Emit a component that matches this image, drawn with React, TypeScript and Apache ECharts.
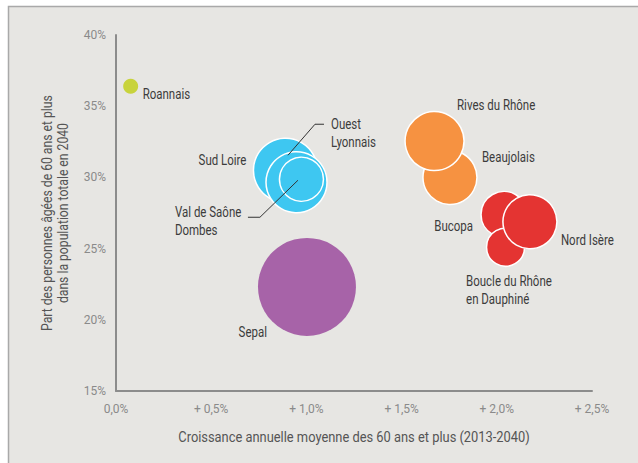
import React, { useEffect, useRef } from "react";
import * as echarts from "echarts";

const names = ["Roannais", "Sud Loire", "Ouest Lyonnais", "Val de Saône Dombes", "Sepal", "Beaujolais", "Rives du Rhône", "Bucopa", "Boucle du Rhône en Dauphiné", "Nord Isère"];
const labelTexts = ["Roannais", "Sud Loire", "Ouest\nLyonnais", "Val de Saône\nDombes", "Sepal", "Beaujolais", "Rives du Rhône", "Bucopa", "Boucle du Rhône\nen Dauphiné", "Nord Isère"];
const growth = [0.077, 0.89, 0.948, 0.974, 1.003, 1.754, 1.673, 2.038, 2.046, 2.174];
const share60 = [36.4, 30.5, 29.66, 29.87, 22.31, 30.0, 32.55, 27.4, 25.1, 26.88];
const bubble = [15, 64, 61, 44, 98, 54, 59, 46, 38, 54];
const colors = ["#c8d33c", "#3ec7f1", "#3ec7f1", "#3ec7f1", "#a763a8", "#f69241", "#f69241", "#e43432", "#e43432", "#e43432"];
const xTicks = [0, 0.5, 1, 1.5, 2, 2.5];
const yTicks = [15, 20, 25, 30, 35, 40];
const xTitle = "Croissance annuelle moyenne des 60 ans et plus (2013-2040)";
const yTitleLines = ["Part des personnes âgées de 60 ans et plus", "dans la population totale en 2040"];

// label placement relative to bubble centre (px)
const labelOffsets: [number, number][] = [[12, 8], [-39, -10], [34.5, -49], [-126.5, 41.5], [-40, 45.5], [32, -20], [22.5, -36], [-31, 12], [-39.5, 43], [31, 18.5]];
const labelAligns = ["left", "right", "left", "left", "right", "left", "left", "right", "left", "left"];

const FONT = "Roboto, 'Noto Sans', sans-serif";

function measure(text: string, size: number): number {
  const c = document.createElement("canvas").getContext("2d");
  if (!c) return text.length * size * 0.5;
  c.font = size + "px " + FONT;
  return c.measureText(text).width;
}

export default function App() {
  const ref = useRef<HTMLDivElement>(null);
  useEffect(() => {
    const chart = echarts.init(ref.current!, null, { renderer: "svg" });
    const data = names.map((n, i) => ({
      name: n,
      value: [growth[i], share60[i], bubble[i]],
      itemStyle: { color: colors[i], borderColor: "#ffffff", borderWidth: i === 0 || i === 4 ? 0 : 1.5, opacity: 1 },
    }));
    const bg = {
      id: "panel",
      type: "rect",
      z: -10,
      silent: true,
      shape: { x: 8.5, y: 6.5, width: 640, height: 470 },
      style: { fill: "#e7e6e3", stroke: "#a9a9a9", lineWidth: 1.5 },
    };
    chart.setOption({
      animation: false,
      textStyle: { fontFamily: FONT },
      graphic: { elements: [bg] },
      grid: { left: 116, right: 46, top: 35, bottom: 72 },
      xAxis: {
        type: "value",
        min: xTicks[0],
        max: xTicks[xTicks.length - 1],
        interval: 0.5,
        splitLine: { show: false },
        axisTick: { show: false },
        axisLine: { show: true, lineStyle: { color: "#8c8c8c", width: 2 } },
        axisLabel: {
          color: "#8a8a8a",
          fontSize: 12,
          fontFamily: FONT,
          margin: 12,
          formatter: (v: number) => (v === 0 ? "0,0%" : "+ " + v.toFixed(1).replace(".", ",") + "%"),
        },
      },
      yAxis: {
        type: "value",
        min: yTicks[0],
        max: yTicks[yTicks.length - 1],
        interval: 5,
        splitLine: { show: false },
        axisTick: { show: false },
        axisLine: { show: true, lineStyle: { color: "#8c8c8c", width: 2 } },
        axisLabel: {
          color: "#8a8a8a",
          fontSize: 12,
          fontFamily: FONT,
          margin: 10,
          formatter: (v: number) => v + "%",
        },
      },
      series: [
        {
          type: "scatter",
          data,
          symbolSize: (v: number[]) => v[2],
          emphasis: { disabled: true },
        },
      ],
    });
    const pts = names.map((_, i) => chart.convertToPixel({ seriesIndex: 0 }, [growth[i], share60[i]]) as number[]);
    const labels = names.map((_, i) => ({
      id: "lbl" + i,
      type: "text",
      z: 20,
      silent: true,
      x: pts[i][0] + labelOffsets[i][0],
      y: pts[i][1] + labelOffsets[i][1],
      scaleX: 0.82,
      style: {
        text: labelTexts[i],
        fill: "#3c3c3c",
        fontSize: 14,
        fontFamily: FONT,
        lineHeight: 18,
        textAlign: labelAligns[i],
        textVerticalAlign: "middle",
      },
    }));
    const p2 = pts[2];
    const p3 = pts[3];
    const lineStyle = { stroke: "#333333", lineWidth: 1, fill: null };
    const grid = { l: 116, r: 592, t: 35, b: 391 };
    const yScale = 0.87;
    const yTitles = yTitleLines.map((t, k) => {
      const w = measure(t, 14) * yScale;
      return {
        id: "ytitle" + k,
        type: "group",
        silent: true,
        x: 47 + k * 16,
        y: (grid.t + grid.b) / 2 + w / 2,
        rotation: Math.PI / 2,
        children: [
          {
            type: "text",
            x: 0,
            y: 0,
            scaleX: yScale,
            style: { text: t, fill: "#555555", fontSize: 14, fontFamily: FONT, textAlign: "left", textVerticalAlign: "middle" },
          },
        ],
      };
    });
    chart.setOption({
      graphic: {
        elements: [
          bg,
          {
            id: "leader1",
            type: "polyline",
            z: 10,
            silent: true,
            shape: { points: [[p2[0] - 8.5, p2[1] - 27], [p2[0] + 18.5, p2[1] - 58], [p2[0] + 27.5, p2[1] - 58]] },
            style: lineStyle,
          },
          {
            id: "leader2",
            type: "polyline",
            z: 10,
            silent: true,
            shape: { points: [[p3[0] - 3.5, p3[1] + 1], [p3[0] - 41.5, p3[1] + 38], [p3[0] - 53.5, p3[1] + 38]] },
            style: lineStyle,
          },
          ...labels,
          {
            id: "xtitle",
            type: "text",
            silent: true,
            x: (grid.l + grid.r) / 2,
            y: 437,
            scaleX: 0.92,
            style: { text: xTitle, fill: "#555555", fontSize: 14, fontFamily: FONT, textAlign: "center", textVerticalAlign: "middle" },
          },
          ...yTitles,
        ],
      },
    });
    return () => chart.dispose();
  }, []);
  return <div ref={ref} style={{ position: "absolute", left: 0, top: 0, width: 638, height: 463, background: "#ffffff" }} />;
}
